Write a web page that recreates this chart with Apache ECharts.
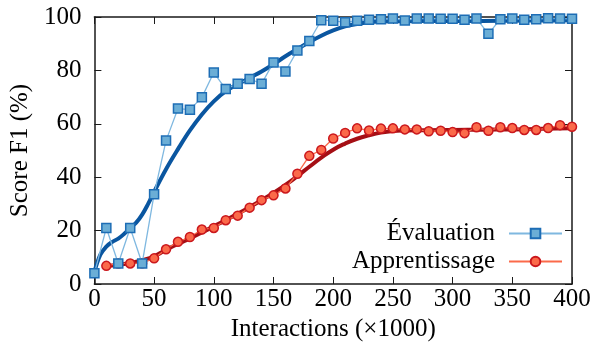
<!DOCTYPE html>
<html>
<head>
<meta charset="utf-8">
<script src="https://cdn.jsdelivr.net/npm/echarts@6/dist/echarts.min.js"></script>
<style>html,body{margin:0;padding:0;background:#fff}#c{width:597px;height:351px}</style>
</head>
<body>
<div id="c"></div>
<script>
// Évaluation (measured points)
const evalX = [0,10,20,30,40,50,60,70,80,90,100,110,120,130,140,150,160,170,180,190,200,210,220,230,240,250,260,270,280,290,300,310,320,330,340,350,360,370,380,390,400];
const evalY = [4,21,7.7,21,7.7,33.6,53.7,65.7,65.3,69.9,79.2,73,75,76.8,75,83,79.6,87.5,91,98.8,98.6,98,98.6,99,99.2,99.4,98.7,99.4,99.4,99.3,99.3,99,99.4,93.7,99.2,99.4,99,99.2,99.5,99.4,99.3];
// Apprentissage (measured points)
const trainX = [10,20,30,40,50,60,70,80,90,100,110,120,130,140,150,160,170,180,190,200,210,220,230,240,250,260,270,280,290,300,310,320,330,340,350,360,370,380,390,400];
const trainY = [6.8,7.7,7.7,7.8,9.6,13,15.8,17.6,20.4,21,23.9,25.6,28.6,31.4,33.2,35.8,41.3,48,50.2,54.5,56.6,58.3,57.5,58.2,58.3,57.9,57.9,57.2,57.4,56.9,56.5,58.7,57.4,58.7,58.4,57.7,57.7,58.4,59.5,58.9];
// Fitted trend curves
const evalFitX = [0,5,10,15,20,25,30,35,40,45,50,60,70,80,90,100,110,120,130,140,150,160,170,180,190,200,210,220,230,240,250,275,300,325,350,375,400];
const evalFitY = [4.5,11,14,15.8,17,18.8,21,23,26,30,34.5,43,50.5,57.5,63.5,68.4,72.2,74.8,77.2,79.6,82.3,85.3,88,90.6,93,95,96.5,97.4,98,98.3,98.4,98.5,98.5,98.5,98.6,98.7,98.8];
const trainFitX = [10,20,30,40,50,60,70,80,90,100,110,120,130,140,150,160,170,180,190,200,210,220,230,240,250,260,280,300,325,350,375,400];
const trainFitY = [6.8,7.2,7.9,8.9,10.4,12.8,15,17.1,19.3,21.6,23.9,26.3,28.8,31.4,34.1,37.1,40.4,43.9,47.3,50.3,52.6,54.4,55.7,56.7,57.3,57.5,57.6,57.7,57.8,57.9,58.1,58.3];
const xTicks = {min:0, max:400, step:50};
const yTicks = {min:0, max:100, step:20};

const zip = (xs, ys) => xs.map((x, i) => [x, ys[i]]);
const FONT = 'Liberation Serif';
const FS = 25;
const axisCol = '#1a1a1a';

const chart = echarts.init(document.getElementById('c'), null, {renderer:'canvas'});
const baseX = {
  type:'value', min:xTicks.min, max:xTicks.max, interval:xTicks.step,
  axisLine:{show:true, onZero:false, lineStyle:{color:axisCol, width:1.5}},
  axisTick:{show:true, inside:true, length:7, lineStyle:{color:axisCol, width:1}},
  splitLine:{show:false}
};
const baseY = {
  type:'value', min:yTicks.min, max:yTicks.max, interval:yTicks.step,
  axisLine:{show:true, onZero:false, lineStyle:{color:axisCol, width:1.5}},
  axisTick:{show:true, inside:true, length:7, lineStyle:{color:axisCol, width:1}},
  splitLine:{show:false}
};
chart.setOption({
  animation:false,
  backgroundColor:'#fff',
  textStyle:{fontFamily:FONT, color:'#000'},
  grid:{left:94, right:25, top:17, bottom:67, containLabel:false},
  xAxis:[
    Object.assign({}, baseX, {position:'bottom',
      name:'Interactions (×1000)', nameLocation:'middle', nameGap:33,
      nameTextStyle:{fontFamily:FONT, fontSize:FS, color:'#000'},
      axisLabel:{show:true, margin:3, fontFamily:FONT, fontSize:FS, color:'#000'}}),
    Object.assign({}, baseX, {position:'top', axisLabel:{show:false}})
  ],
  yAxis:[
    Object.assign({}, baseY, {position:'left',
      name:'Score F1 (%)', nameLocation:'middle', nameGap:48, nameRotate:90,
      nameTextStyle:{fontFamily:FONT, fontSize:FS, color:'#000'},
      axisLabel:{show:true, margin:13, fontFamily:FONT, fontSize:FS, color:'#000'}}),
    Object.assign({}, baseY, {position:'right', axisLabel:{show:false}})
  ],
  legend:{
    data:['Évaluation','Apprentissage'],
    orient:'vertical', align:'right', right:34, top:221, padding:0,
    itemWidth:53, itemHeight:12, itemGap:3,
    textStyle:{fontFamily:FONT, fontSize:FS, color:'#000', lineHeight:20, padding:[0,9,0,0]}
  },
  series:[
    {name:'fitEval', type:'line', data:zip(evalFitX, evalFitY), smooth:0.4, showSymbol:false, symbol:'none',
     lineStyle:{color:'#0a56a0', width:4}, z:2, silent:true},
    {name:'fitTrain', type:'line', data:zip(trainFitX, trainFitY), smooth:0.5, showSymbol:false, symbol:'none',
     lineStyle:{color:'#a50f15', width:4}, z:2, silent:true},
    {name:'Apprentissage', type:'line', data:zip(trainX, trainY), symbol:'circle', symbolSize:9,
     lineStyle:{color:'#fb6a4a', width:1.3},
     itemStyle:{color:'#fb6a4a', borderColor:'#cb181d', borderWidth:1.5}, z:3, clip:false},
    {name:'Évaluation', type:'line', data:zip(evalX, evalY), symbol:'rect', symbolSize:9,
     lineStyle:{color:'#7fb8e0', width:1.3},
     itemStyle:{color:'#6baed6', borderColor:'#1d6db5', borderWidth:1.5}, z:4, clip:false}
  ]
});
</script>
</body>
</html>
